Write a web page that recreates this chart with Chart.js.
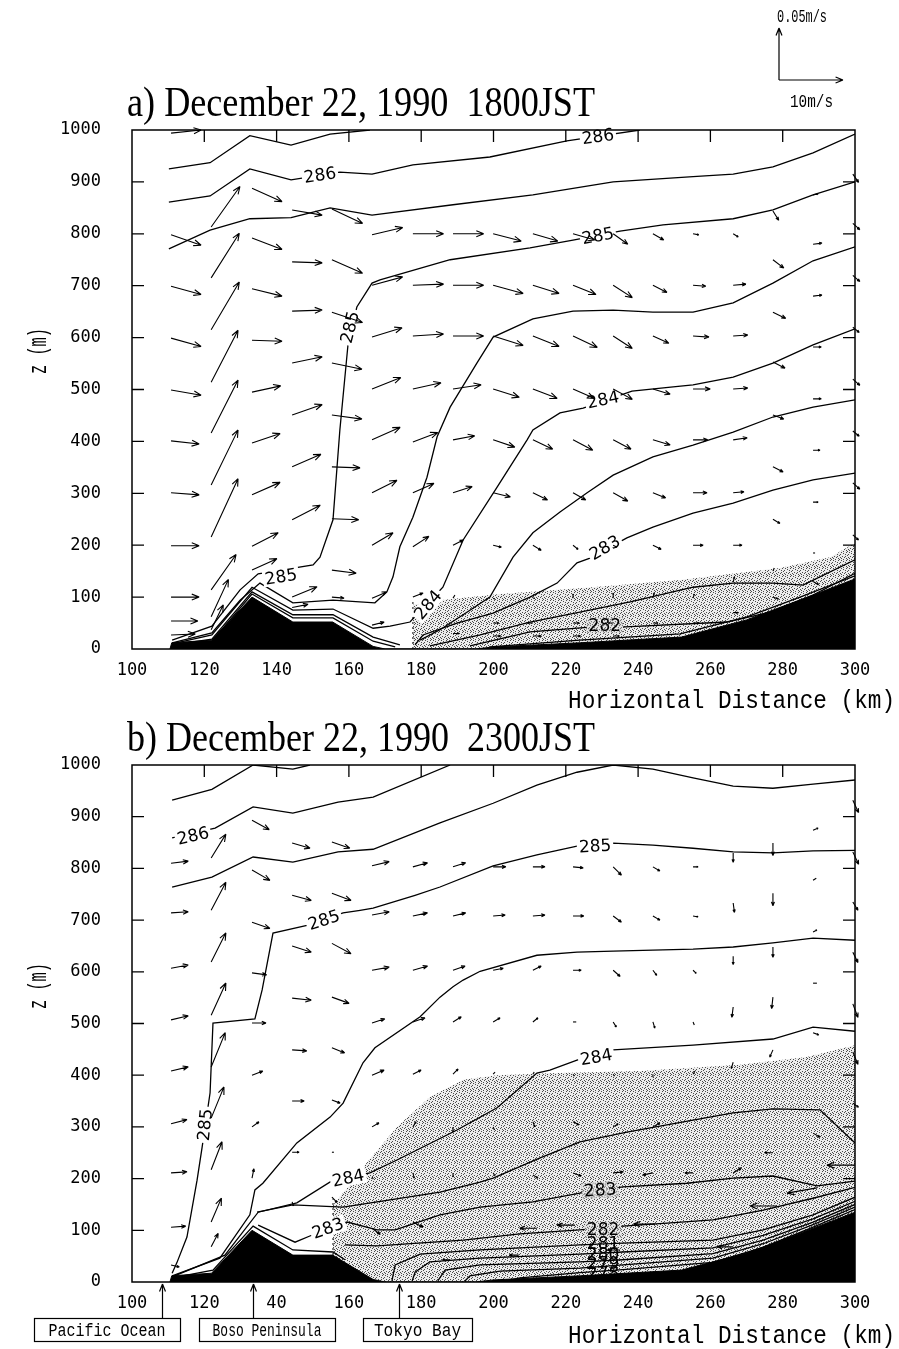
<!DOCTYPE html>
<html>
<head>
<meta charset="utf-8">
<script src="https://cdn.jsdelivr.net/npm/chart.js@4.4.1/dist/chart.umd.min.js"></script>
<style>
  html, body { margin: 0; padding: 0; background: #fff; }
  #wrap { position: relative; width: 899px; height: 1349px; }
  #cA, #cB { position: absolute; left: 0; }
  #cA { top: 0; }
  #cB { top: 715px; }
</style>
</head>
<body>
<div id="wrap">
  <canvas id="cA" width="899" height="715"></canvas>
  <canvas id="cB" width="899" height="634"></canvas>
</div>
<script>
(function () {
  'use strict';

  // ---------- axes ----------
  const xTicks = [100, 120, 140, 160, 180, 200, 220, 240, 260, 280, 300];
  const zTicks = [0, 100, 200, 300, 400, 500, 600, 700, 800, 900, 1000];
  const xLabelsA = ['100', '120', '140', '160', '180', '200', '220', '240', '260', '280', '300'];
  const xLabelsB = ['100', '120', '40', '160', '180', '200', '220', '240', '260', '280', '300'];

  // ---------- terrain and shaded areas  [km, m] ----------
  const terrain = [[110.5, 0], [111, 12], [122, 17], [133.2, 100], [144.5, 52], [155.5, 52], [166.7, 5], [170, 0],
    [195, 0], [200, 4], [224, 12], [252, 23], [270, 56], [285, 95], [300, 135], [300, 0]];
  const shadeA = [[177.7, 0], [177.7, 85], [185.2, 94], [201.8, 106], [223.9, 117], [251.6, 133], [279.3, 156],
    [293.1, 177], [300, 204], [300, 0]];
  const shadeB = [[155.6, 0], [155.6, 149], [160.3, 188], [163.9, 222], [173.3, 300], [182.4, 358], [191.6, 391],
    [201.0, 400], [215.6, 404], [240.5, 408], [268.2, 420], [286.7, 435], [300, 458], [300, 0]];
  const edgeA = [[177.7, 0], [177.7, 92]];
  const edgeB = [[155.6, 52], [155.6, 160]];

  // ---------- potential temperature contours, panel a ----------
  const a286top = [[110.2, 925], [121.6, 937], [132.6, 989], [144.0, 971], [154.8, 992], [165.8, 1000]];
  const a286 = [[110.2, 861], [121.6, 873], [132.6, 925], [144.0, 904], [157.5, 919], [166.4, 915], [177.7, 933],
    [199.0, 948], [220.3, 979], [240.5, 1000]];
  const a2855 = [[110.2, 771], [121.6, 807], [132.6, 829], [144.0, 831], [154.8, 850], [166.4, 836], [188.8, 856],
    [210.9, 875], [233.1, 900], [255.2, 910], [266.3, 915], [277.3, 929], [288.4, 956], [300, 992]];
  const a285 = [[300, 900], [288.4, 875], [277.3, 846], [266.3, 829], [246.9, 817], [235.0, 805], [222.0, 788],
    [210.1, 773], [188.0, 750], [168.6, 711], [166.4, 705], [162.2, 659], [159.8, 590], [157.5, 422], [155.6, 249],
    [152.0, 177], [150.1, 162], [134.9, 145], [129.9, 114], [122.1, 44], [111.1, 17]];
  const a2845 = [[300, 775], [288.4, 748], [277.3, 705], [266.3, 667], [255.2, 649], [244.1, 649], [233.1, 653],
    [222.0, 651], [210.9, 636], [199.9, 601], [195.4, 551], [188.0, 466], [184.4, 409], [181.6, 331], [177.7, 254],
    [174.1, 197], [172.2, 139], [170.5, 110], [167.2, 89], [155.6, 94], [144.5, 89], [135.4, 127], [129.9, 94],
    [122.1, 31], [111.1, 12]];
  const a284 = [[300, 617], [288.4, 586], [277.3, 551], [266.3, 524], [255.2, 509], [249.7, 505], [238.3, 497],
    [224.8, 464], [218.4, 455], [210.9, 422], [209.3, 403], [201.0, 312], [191.6, 210], [186.0, 119], [176.9, 52],
    [171.4, 44], [166.7, 40], [155.6, 77], [144.5, 75], [133.2, 119], [122.1, 27], [111.1, 10]];
  const a2835 = [[300, 480], [288.4, 466], [277.3, 447], [266.3, 418], [255.2, 393], [244.1, 370], [233.1, 335],
    [225.9, 301], [218.4, 264], [210.9, 224], [205.4, 177], [199.0, 100], [191.6, 66], [185.2, 37], [179.7, 17]];
  const a283 = [[300, 339], [288.4, 326], [277.3, 306], [266.3, 281], [255.2, 262], [244.1, 235], [236.9, 214],
    [226.7, 175], [223.1, 166], [217.6, 127], [210.1, 100], [199.9, 69], [189.9, 50], [180.5, 27], [178.3, 8]];
  const a2825 = [[182.4, 6], [196.3, 27], [210.1, 52], [223.9, 71], [237.8, 91], [255.2, 119], [266.3, 127],
    [277.3, 127], [285.6, 123], [300, 172]];
  const a282 = [[193.5, 6], [210.1, 33], [226.7, 42], [235.0, 42], [264.6, 52], [276.5, 71], [288.4, 104], [300, 146]];
  const a2815 = [[199, 4], [223.9, 17], [251.6, 29], [270.1, 62], [284.8, 100], [300, 141]];
  const aHug1 = [[111.1, 8], [122.1, 19], [133.2, 110], [144.5, 66], [155.6, 66], [166.7, 23], [174.1, 8]];
  const aHug2 = [[111.1, 6], [122.1, 15], [133.2, 106], [144.5, 60], [155.6, 60], [166.7, 15], [172.8, 4]];

  // ---------- potential temperature contours, panel b ----------
  const b286top = [[111.1, 932], [122.1, 953], [133.5, 1000], [144.5, 992], [149.2, 1000]];
  const b286 = [[111.1, 859], [123.0, 878], [133.5, 919], [144.5, 907], [157.0, 928], [166.7, 938], [188.0, 1000]];
  const b2855 = [[111.1, 764], [122.1, 783], [133.5, 822], [144.5, 812], [157.0, 832], [166.7, 837], [185.2, 888],
    [199.9, 926], [212.0, 961], [223.1, 986], [233.1, 1000], [244.1, 992], [255.2, 975], [266.3, 959], [277.3, 955],
    [288.4, 963], [300, 971]];
  const b285 = [[300, 835], [288.4, 834], [277.3, 830], [266.3, 832], [255.2, 839], [244.1, 845], [233.1, 849],
    [223.1, 843], [212.0, 826], [199.9, 805], [185.2, 764], [178.3, 748], [166.7, 723], [163.1, 719], [158.4, 714],
    [148.4, 690], [139.0, 675], [136.0, 565], [134.0, 509], [122.4, 501], [121.6, 366], [119.4, 261], [118.0, 197],
    [115.2, 87], [112.4, 37], [111.1, 17]];
  const b2845 = [[300, 661], [288.4, 665], [277.3, 656], [266.3, 648], [255.2, 644], [244.1, 642], [233.1, 640],
    [223.1, 638], [212.0, 632], [196.3, 601], [191.6, 584], [188.8, 571], [185.2, 551], [179.7, 513], [167.2, 453],
    [163.9, 424], [158.4, 346], [154.8, 319], [145.6, 269], [136.2, 191], [134.0, 178], [132.6, 130], [124.3, 46],
    [111.1, 12]];
  const b284 = [[300, 485], [288.4, 493], [277.3, 470], [255.2, 458], [233.1, 449], [223.1, 429], [215.6, 410],
    [212.0, 404], [201.0, 337], [189.9, 294], [173.3, 236], [165.8, 211], [155.6, 197], [145.6, 153], [134.9, 135],
    [125.7, 52], [111.1, 10]];
  const b2835 = [[300, 269], [290.3, 333], [277.3, 335], [266.3, 327], [255.2, 313], [236.9, 290], [223.9, 271],
    [212.9, 240], [199.9, 201], [196.3, 193], [185.2, 174], [167.8, 155], [158.4, 145], [144.5, 149], [134.6, 135]];
  const b283 = [[300, 195], [289.5, 186], [277.3, 205], [266.3, 201], [253.5, 191], [235.8, 184], [223.9, 172],
    [210.9, 155], [196.3, 145], [185.2, 130], [172.8, 101], [167.8, 101], [159.5, 116], [149.2, 89], [145.1, 77],
    [134.9, 110]];
  const b282 = [[300, 183], [288.4, 162], [274.6, 139], [260.7, 120], [248.0, 114], [235.8, 108], [223.9, 101],
    [207.3, 93], [191.6, 81], [167.8, 70], [158.9, 72]];
  const b281 = [[300, 164], [288.4, 130], [274.6, 101], [260.7, 81], [235.8, 75], [223.9, 72], [196.3, 62],
    [179.7, 54], [172.8, 33], [171.9, 2]];
  const b280 = [[300, 156], [288.4, 122], [274.6, 90], [260.7, 66], [235.8, 58], [223.9, 54], [196.3, 46],
    [182.4, 39], [178.3, 19], [177.5, 2]];
  const b279 = [[300, 150], [288.4, 116], [274.6, 81], [260.7, 55], [235.8, 43], [223.9, 39], [196.3, 33],
    [186.6, 23], [184.6, 2]];
  const b278 = [[300, 145], [288.4, 111], [274.6, 74], [260.7, 46], [235.8, 33], [223.9, 27], [201.8, 21],
    [193.5, 12], [192.1, 2]];
  const b277 = [[300, 140], [288.4, 106], [274.6, 67], [260.7, 38], [235.8, 24], [223.9, 18], [207.3, 8], [203.2, 2]];
  const bHug = [[111.1, 8], [122.4, 23], [133.5, 108], [144.5, 62], [155.6, 58], [158.9, 43]];

  // contour labels  [km, m, text, tilt deg, background 0 white / 1 stipple / 2 none]
  const labelsA = [[152.0, 913, '286', -9, 0], [228.9, 987, '286', -8, 0], [228.9, 796, '285', -11, 0],
    [160.3, 620, '285', -76, 0], [141.2, 139, '285', -9, 0], [230.3, 480, '284', -12, 0], [181.9, 85, '284', -50, 0],
    [230.8, 195, '283', -30, 0], [230.8, 46, '282', 0, 1]];
  const labelsB = [[116.9, 863, '286', -13, 0], [228.1, 843, '285', -3, 0], [153.1, 700, '285', -18, 0],
    [120.2, 304, '285', -84, 0], [228.4, 435, '284', -10, 0], [159.8, 201, '284', -12, 0], [229.5, 178, '283', -4, 1],
    [154.2, 104, '283', -20, 0], [230.3, 101, '282', 0, 1], [230.3, 75, '281', 0, 2], [230.3, 54, '280', 0, 2],
    [230.3, 36, '279', 0, 2], [230.3, 17, '278', 0, 2]];

  // ---------- wind vectors  [km, m, u (m/s), w (cm/s)] ----------
  const windA = [
    [110.8, 994, 4.7, 0.3], [110.8, 798, 4.7, -1.0], [110.8, 699, 4.7, -0.8], [110.8, 599, 4.7, -0.8], [110.8, 499, 4.7, -0.5],
    [110.8, 401, 4.4, -0.3], [110.8, 301, 4.4, -0.2], [110.8, 199, 4.4, 0], [110.8, 100, 4.4, 0], [110.8, 54, 4.2, 0], [110.8, 27, 3.8, 0.1],
    [121.9, 813, 4.5, 3.9], [121.9, 715, 4.4, 4.3], [121.9, 615, 4.4, 4.6], [121.9, 514, 4.2, 5.0], [121.9, 416, 4.2, 5.1],
    [121.9, 316, 4.2, 5.3], [121.9, 216, 4.2, 5.6], [121.9, 114, 3.9, 3.4], [121.9, 62, 2.7, 3.6], [121.9, 37, 1.9, 2.4],
    [133.2, 888, 4.7, -1.3], [133.2, 792, 4.7, -1.1], [133.2, 694, 4.7, -0.7], [133.2, 595, 4.7, -0.1], [133.2, 495, 4.5, 0.6],
    [133.2, 397, 4.4, 0.9], [133.2, 297, 4.4, 1.2], [133.2, 198, 4.1, 1.3], [133.2, 152, 3.9, 1.1],
    [144.3, 846, 4.7, -0.5], [144.3, 746, 4.7, -0.1], [144.3, 651, 4.7, 0.1], [144.3, 551, 4.7, 0.6], [144.3, 451, 4.7, 1.0],
    [144.3, 351, 4.5, 1.2], [144.3, 249, 4.4, 1.4], [144.3, 100, 3.9, 1.0], [144.3, 80, 2.5, 0.3],
    [155.3, 848, 4.8, -1.4], [155.3, 750, 4.8, -1.3], [155.3, 649, 4.8, -1.0], [155.3, 551, 4.7, -0.6], [155.3, 451, 4.7, -0.4],
    [155.3, 351, 4.4, -0.1], [155.3, 251, 4.2, -0.1], [155.3, 152, 3.8, -0.3], [155.3, 100, 1.9, -0.1],
    [166.4, 798, 4.8, 0.7], [166.4, 701, 4.8, 0.8], [166.4, 601, 4.7, 0.9], [166.4, 501, 4.5, 1.1], [166.4, 403, 4.4, 1.2],
    [166.4, 301, 3.9, 1.2], [166.4, 200, 3.3, 1.2], [166.4, 98, 2.3, 0.6], [166.4, 46, 1.9, 0.3],
    [177.7, 800, 4.8, 0], [177.7, 701, 4.8, 0.1], [177.7, 603, 4.8, 0.2], [177.7, 501, 4.4, 0.6], [177.7, 399, 3.9, 0.9],
    [177.7, 301, 3.3, 0.9], [177.7, 197, 2.5, 1.0], [177.7, 100, 1.6, 0.4],
    [188.8, 800, 4.8, 0], [188.8, 701, 4.8, 0], [188.8, 603, 4.8, 0], [188.8, 501, 4.4, 0.4], [188.8, 403, 3.4, 0.4],
    [188.8, 301, 3.0, 0.6], [188.8, 200, 1.6, 0.5], [188.8, 98, 0.3, 0.3],
    [199.9, 800, 4.4, -0.7], [199.9, 701, 4.7, -0.8], [199.9, 603, 4.7, -0.9], [199.9, 501, 4.1, -0.8], [199.9, 403, 3.4, -0.7],
    [199.9, 301, 2.7, -0.4], [199.9, 200, 1.3, -0.2], [199.9, 98, 0.2, -0.1],
    [210.9, 800, 3.9, -0.7], [210.9, 701, 4.1, -0.8], [210.9, 603, 4.1, -1.0], [210.9, 501, 3.8, -0.9], [210.9, 403, 3.1, -0.9],
    [210.9, 301, 2.3, -0.7], [210.9, 200, 1.3, -0.5], [210.9, 98, 0.2, 0],
    [222.0, 800, 3.4, -0.6], [222.0, 701, 3.6, -0.9], [222.0, 603, 3.8, -1.1], [222.0, 501, 3.3, -0.9], [222.0, 403, 3.1, -1.0],
    [222.0, 301, 2.0, -0.7], [222.0, 200, 0.8, -0.4], [222.0, 98, 0, 0.4],
    [233.1, 800, 2.3, -1.0], [233.1, 701, 3.0, -1.2], [233.1, 603, 3.0, -1.2], [233.1, 501, 3.0, -1.0], [233.1, 403, 2.8, -0.9],
    [233.1, 301, 2.3, -0.8], [233.1, 200, 0.6, -0.2], [233.1, 98, 0, 0.5],
    [244.1, 800, 1.7, -0.6], [244.1, 701, 2.2, -0.7], [244.1, 603, 2.5, -0.7], [244.1, 501, 2.7, -0.5], [244.1, 403, 2.7, -0.5],
    [244.1, 301, 2.0, -0.5], [244.1, 200, 1.3, -0.4], [244.1, 98, 0.2, 0.5],
    [255.2, 800, 0.9, -0.1], [255.2, 701, 2.0, -0.1], [255.2, 603, 2.5, -0.1], [255.2, 501, 2.7, 0], [255.2, 403, 2.3, 0],
    [255.2, 301, 2.2, 0], [255.2, 200, 1.6, 0], [255.2, 98, 0.2, 0.4],
    [266.3, 800, 0.8, -0.3], [266.3, 701, 2.0, 0.1], [266.3, 603, 2.3, 0.1], [266.3, 501, 2.3, 0.1], [266.3, 403, 2.2, 0.2],
    [266.3, 301, 1.7, 0.1], [266.3, 200, 1.4, 0], [266.3, 129, 0.2, 0.5],
    [277.3, 844, 0.9, -0.9], [277.3, 750, 1.7, -0.8], [277.3, 649, 2.0, -0.6], [277.3, 553, 1.9, -0.6], [277.3, 451, 1.7, -0.4],
    [277.3, 351, 1.6, -0.5], [277.3, 250, 1.1, -0.4], [277.3, 150, 0.2, 0.3],
    [288.4, 875, 0.8, 0.1], [288.4, 780, 1.4, 0.1], [288.4, 680, 1.4, 0.1], [288.4, 582, 1.3, 0], [288.4, 482, 1.3, 0],
    [288.4, 383, 1.1, 0], [288.4, 283, 0.8, 0], [288.4, 185, 0.2, 0],
    [299.4, 915, 0.9, -0.8], [299.4, 820, 1.1, -0.6], [299.4, 720, 1.1, -0.6], [299.4, 620, 1.0, -0.5], [299.4, 520, 1.1, -0.6],
    [299.4, 420, 1.0, -0.5], [299.4, 320, 1.1, -0.6], [299.4, 220, 0.9, -0.5],
    [188.8, 30, 1.0, 0], [199.9, 50, 0.9, 0], [199.9, 25, 1.2, 0], [210.9, 50, -0.8, 0], [210.9, 25, 1.3, 0], [222.0, 50, 1.0, 0],
    [222.0, 25, 1.2, 0], [233.1, 50, -0.8, 0], [233.1, 25, 1.0, 0], [244.1, 50, 0.8, 0], [255.2, 50, 1.0, 0], [266.3, 70, 0.8, 0],
    [277.3, 100, 0.9, -0.2], [288.4, 130, 0.9, -0.3]
  ];

  const windB = [
    [110.8, 810, 2.7, 0.2], [110.8, 714, 2.7, 0.1], [110.8, 607, 2.7, 0.3], [110.8, 507, 2.7, 0.4], [110.8, 408, 2.7, 0.4],
    [110.8, 306, 2.5, 0.4], [110.8, 211, 2.5, 0.1], [110.8, 106, 2.3, 0.1], [110.8, 33, 1.3, -0.2],
    [121.9, 820, 2.3, 2.3], [121.9, 719, 2.3, 2.7], [121.9, 619, 2.3, 2.8], [121.9, 516, 2.3, 3.1], [121.9, 416, 2.2, 3.3],
    [121.9, 317, 2.0, 3.0], [121.9, 217, 1.7, 2.7], [121.9, 116, 1.6, 2.3], [121.9, 68, 1.1, 1.3],
    [133.2, 893, 2.7, -0.9], [133.2, 797, 2.8, -1.0], [133.2, 696, 2.8, -0.6], [133.2, 598, 2.3, -0.2], [133.2, 501, 2.2, 0],
    [133.2, 400, 1.7, 0.4], [133.2, 300, 1.1, 0.5], [133.2, 201, 0.3, 0.9],
    [144.3, 849, 2.8, -0.5], [144.3, 748, 3.0, -0.5], [144.3, 650, 3.0, -0.6], [144.3, 549, 3.0, -0.2], [144.3, 449, 2.3, -0.1],
    [144.3, 350, 1.9, 0], [144.3, 251, 1.1, 0], [144.3, 155, 0.2, -0.4],
    [155.3, 851, 2.8, -0.6], [155.3, 752, 3.0, -0.7], [155.3, 655, 3.0, -1.0], [155.3, 551, 2.7, -0.6], [155.3, 453, 2.0, -0.5],
    [155.3, 352, 1.3, -0.3], [155.3, 251, 0.2, 0], [155.3, 164, 0.8, -0.5],
    [166.4, 805, 2.7, 0.4], [166.4, 710, 2.7, 0.3], [166.4, 603, 2.7, 0.3], [166.4, 501, 2.0, 0.4], [166.4, 400, 1.9, 0.5],
    [166.4, 300, 1.1, 0.4], [166.4, 203, 0.2, -0.2], [166.4, 104, 1.3, -0.6],
    [177.7, 803, 2.3, 0.4], [177.7, 708, 2.3, 0.3], [177.7, 603, 2.3, 0.4], [177.7, 503, 1.9, 0.4], [177.7, 402, 1.3, 0.4],
    [177.7, 300, 0.5, 0.5], [177.7, 211, 0.2, -0.5], [177.7, 116, 1.6, -0.5],
    [188.8, 803, 2.0, 0.4], [188.8, 708, 2.0, 0.3], [188.8, 603, 1.9, 0.4], [188.8, 503, 1.3, 0.5], [188.8, 402, 0.8, 0.5],
    [188.8, 300, 0, -0.5], [188.8, 211, 0, -0.4],
    [199.9, 803, 2.0, 0], [199.9, 708, 1.9, 0.1], [199.9, 603, 1.6, 0.2], [199.9, 503, 1.1, 0.4], [199.9, 402, 0.3, 0.2],
    [199.9, 300, 0.2, -0.3], [199.9, 211, 0.3, -0.3],
    [210.9, 803, 1.9, 0], [210.9, 708, 1.9, 0.1], [210.9, 603, 1.3, 0.4], [210.9, 503, 0.8, 0.4], [210.9, 402, 0.2, 0.2],
    [210.9, 310, 0.3, -0.5], [210.9, 207, 0.8, -0.3],
    [222.0, 803, 1.6, -0.1], [222.0, 708, 1.7, 0], [222.0, 603, 1.3, 0], [222.0, 503, 0.5, 0], [222.0, 402, 0.2, -0.2],
    [222.0, 310, 0.9, -0.3], [222.0, 211, 1.3, -0.3],
    [233.1, 803, 1.3, -0.8], [233.1, 708, 1.3, -0.6], [233.1, 603, 1.1, -0.6], [233.1, 503, 0.5, -0.5], [233.1, 402, 0.2, -0.2],
    [233.1, 300, 0.8, 0.3], [233.1, 211, 1.6, 0.1],
    [244.1, 803, 1.1, -0.4], [244.1, 708, 1.1, -0.4], [244.1, 603, 0.6, -0.5], [244.1, 503, 0.3, -0.6], [244.1, 402, 0, -0.3],
    [244.1, 300, 1.1, 0.4], [244.1, 211, -1.6, -0.2],
    [255.2, 803, 0.8, 0], [255.2, 708, 0.8, -0.1], [255.2, 603, 0.5, -0.3], [255.2, 503, 0.2, -0.3], [255.2, 402, 0.3, 0.3],
    [255.2, 211, -1.3, 0],
    [266.3, 830, 0, -0.9], [266.3, 733, 0.2, -0.9], [266.3, 630, 0, -0.8], [266.3, 532, -0.2, -1.0], [266.3, 425, -0.3, -0.6],
    [266.3, 211, 1.3, 0.5],
    [277.3, 849, 0, -1.2], [277.3, 752, 0, -1.2], [277.3, 648, 0, -1.0], [277.3, 551, -0.2, -1.1], [277.3, 449, -0.5, -0.7],
    [277.3, 250, -1.3, 0],
    [288.4, 874, 0.8, 0.2], [288.4, 777, 0.5, 0.2], [288.4, 677, 0.6, 0.2], [288.4, 578, 0.6, 0], [288.4, 482, 0.9, -0.2],
    [288.4, 288, 1.1, -0.4],
    [299.4, 932, 0.9, -1.2], [299.4, 832, 0.9, -1.2], [299.4, 735, 0.8, -0.8], [299.4, 638, 0.8, -1.0], [299.4, 538, 0.8, -1.3],
    [299.4, 445, 0.8, -1.2], [299.4, 346, 0.9, -0.4],
    [300, 226, -4.4, 0], [289.5, 182, -4.7, -0.5], [278.4, 147, -4.2, 0], [244.7, 112, -3.4, 0], [222.5, 110, -2.8, 0],
    [212.0, 104, -2.7, 0], [266.3, 68, -2.5, 0], [235.0, 62, -2.0, 0], [207.0, 52, -1.5, 0], [188.0, 43, -1.2, 0]
  ];

  // reference vector of the legend
  const refU = 10;      // m/s
  const refW = 5;       // cm/s  (0.05 m/s)
  const pxPerU = 6.4;   // px per m/s
  const pxPerW = 10.4;  // px per cm/s

  // place names under panel b
  const placeNames = ['Pacific Ocean', 'Boso Peninsula', 'Tokyo Bay'];
  const placeKm = [108.3, 133.5, 173.9];

  // ---------- helpers ----------
  const pts = arr => arr.map(p => ({ x: p[0], y: p[1] }));

  // fine dot screen like the printed stipple
  function stipple() {
    const c = document.createElement('canvas');
    c.width = 8; c.height = 8;
    const g = c.getContext('2d');
    g.fillStyle = '#ececec';
    g.fillRect(0, 0, 8, 8);
    g.fillStyle = '#4a4a4a';
    [[1, 0], [6, 0], [3, 1], [0, 2], [5, 2], [7, 3], [2, 4], [4, 5], [6, 6], [1, 6], [3, 7], [7, 7], [5, 4], [0, 5]]
      .forEach(p => g.fillRect(p[0], p[1], 1, 1));
    return g.createPattern(c, 'repeat');
  }
  const shadePattern = stipple();

  function arrow(ctx, x0, y0, x1, y1) {
    let dx = x1 - x0, dy = y1 - y0;
    let len = Math.hypot(dx, dy);
    if (len < 2) {
      const a0 = len > 0 ? Math.atan2(dy, dx) : 0;
      dx = 2 * Math.cos(a0); dy = 2 * Math.sin(a0);
      x1 = x0 + dx; y1 = y0 + dy; len = 2;
    }
    ctx.beginPath();
    ctx.moveTo(x0, y0);
    ctx.lineTo(x1, y1);
    if (len > 4) {
      const h = Math.min(8, len * 0.33), a = Math.atan2(dy, dx);
      ctx.moveTo(x1, y1);
      ctx.lineTo(x1 - h * Math.cos(a - 0.38), y1 - h * Math.sin(a - 0.38));
      ctx.moveTo(x1, y1);
      ctx.lineTo(x1 - h * Math.cos(a + 0.38), y1 - h * Math.sin(a + 0.38));
    }
    ctx.stroke();
  }

  function fitText(ctx, txt, x, y, width, font, align) {
    ctx.save();
    ctx.font = font;
    const s = width / ctx.measureText(txt).width;
    ctx.translate(x, y);
    ctx.scale(s, 1);
    ctx.textAlign = align || 'left';
    ctx.textBaseline = 'alphabetic';
    ctx.fillStyle = '#000';
    ctx.fillText(txt, 0, 0);
    ctx.restore();
  }

  function lineSet(arr) {
    return { data: pts(arr), showLine: true, borderColor: '#000', borderWidth: 1.3, pointRadius: 0, fill: false, tension: 0 };
  }

  function buildDatasets(lines, shade, edge) {
    const ds = [];
    ds.push({ data: pts(terrain), showLine: true, borderColor: '#000', borderWidth: 1, pointRadius: 0,
      fill: 'origin', backgroundColor: '#000' });
    lines.forEach(l => ds.push(lineSet(l)));
    ds.push({ data: pts(edge), showLine: true, borderColor: '#333', borderWidth: 1.2, borderDash: [2, 3],
      pointRadius: 0, fill: false });
    ds.push({ data: pts(shade), showLine: true, borderWidth: 0, borderColor: 'rgba(0,0,0,0)', pointRadius: 0,
      fill: 'origin', backgroundColor: shadePattern });
    return ds;
  }

  function panelPlugin(p) {
    return {
      id: 'panelDecor',
      afterDatasetsDraw(chart) {
        const ctx = chart.ctx, ca = chart.chartArea, xs = chart.scales.x, ys = chart.scales.y;
        ctx.save();
        // contour labels
        p.labels.forEach(([km, z, txt, deg, bg]) => {
          const px = xs.getPixelForValue(km), py = ys.getPixelForValue(z);
          ctx.save();
          ctx.translate(px, py);
          ctx.rotate(deg * Math.PI / 180);
          ctx.font = '17px "DejaVu Sans"';
          const w = ctx.measureText(txt).width;
          if (bg !== 2) {
            ctx.fillStyle = bg === 1 ? shadePattern : '#fff';
            ctx.fillRect(-w / 2 - 2, -8, w + 4, 16);
          }
          ctx.fillStyle = '#000';
          ctx.textAlign = 'center';
          ctx.textBaseline = 'middle';
          ctx.fillText(txt, 0, 1);
          ctx.restore();
        });
        // wind vectors
        ctx.strokeStyle = '#000';
        ctx.lineWidth = 1.1;
        p.wind.forEach(([km, z, u, w]) => {
          const x0 = xs.getPixelForValue(km), y0 = ys.getPixelForValue(z);
          arrow(ctx, x0, y0, x0 + u * pxPerU, y0 - w * pxPerW);
        });
        // frame and inner ticks
        ctx.lineWidth = 1.5;
        ctx.strokeRect(ca.left, ca.top, ca.right - ca.left, ca.bottom - ca.top);
        ctx.lineWidth = 1.3;
        ctx.beginPath();
        zTicks.slice(1, -1).forEach(v => {
          const py = ys.getPixelForValue(v);
          ctx.moveTo(ca.left, py); ctx.lineTo(ca.left + 12, py);
          ctx.moveTo(ca.right, py); ctx.lineTo(ca.right - 12, py);
        });
        xTicks.slice(1, -1).forEach(v => {
          const px = xs.getPixelForValue(v);
          ctx.moveTo(px, ca.top); ctx.lineTo(px, ca.top + 12);
        });
        ctx.stroke();
        ctx.restore();
      },
      afterDraw(chart) {
        const ctx = chart.ctx, ca = chart.chartArea;
        fitText(ctx, p.title, 127, ca.top - 14, 468, '42px "Liberation Serif"');
        fitText(ctx, 'Horizontal Distance (km)', 895, ca.bottom + p.xTitleDy, 327, '26px "Liberation Mono"', 'right');
        ctx.save();
        ctx.translate(38, ca.top + 221);
        ctx.rotate(-Math.PI / 2);
        fitText(ctx, 'z (m)', 0, 8, 46, '25px "Liberation Mono"', 'center');
        ctx.restore();
        if (p.extra) p.extra(chart);
      }
    };
  }

  function makeChart(id, lines, shade, edge, xLabels, padTop, xHeight, plugin) {
    return new Chart(document.getElementById(id), {
      type: 'scatter',
      data: { datasets: buildDatasets(lines, shade, edge) },
      options: {
        responsive: false,
        animation: false,
        events: [],
        layout: { padding: { top: padTop, right: 44, bottom: 0, left: 0 } },
        plugins: { legend: { display: false }, tooltip: { enabled: false } },
        scales: {
          x: {
            type: 'linear', min: 100, max: 300,
            grid: { display: false, drawTicks: false }, border: { display: false },
            ticks: { stepSize: 20, autoSkip: false, maxRotation: 0, padding: 11, color: '#000',
              font: { family: 'DejaVu Sans Mono', size: 17 },
              callback: v => xLabels[xTicks.indexOf(v)] },
            afterFit: s => { s.height = xHeight; }
          },
          y: {
            type: 'linear', min: 0, max: 1000,
            grid: { display: false, drawTicks: false }, border: { display: false },
            ticks: { stepSize: 100, autoSkip: false, padding: 31, color: '#000',
              font: { family: 'DejaVu Sans Mono', size: 17 },
              callback: v => String(v) },
            afterFit: s => { s.width = 132; }
          }
        }
      },
      plugins: [plugin]
    });
  }

  // ---------- panel a ----------
  const linesA = [a286top, a286, a2855, a285, a2845, a284, a2835, a283, a2825, a282, a2815, aHug1, aHug2];
  makeChart('cA', linesA, shadeA, edgeA, xLabelsA, 130, 66, panelPlugin({
    title: 'a) December 22, 1990  1800JST',
    labels: labelsA, wind: windA, xTitleDy: 59,
    extra(chart) {
      const ctx = chart.ctx;
      const ox = 779, oy = 80;
      ctx.save();
      ctx.strokeStyle = '#000';
      ctx.lineWidth = 1.2;
      arrow(ctx, ox, oy, ox, oy - refW * pxPerW);
      arrow(ctx, ox, oy, ox + refU * pxPerU, oy);
      ctx.restore();
      fitText(ctx, '0.05m/s', 777, 22, 50, '18px "Liberation Mono"');
      fitText(ctx, '10m/s', 790, 107, 43, '18px "Liberation Mono"');
    }
  }));

  // ---------- panel b ----------
  const linesB = [b286top, b286, b2855, b285, b2845, b284, b2835, b283, b282, b281, b280, b279, b278, b277, bHug];
  makeChart('cB', linesB, shadeB, edgeB, xLabelsB, 50, 67, panelPlugin({
    title: 'b) December 22, 1990  2300JST',
    labels: labelsB, wind: windB, xTitleDy: 61,
    extra(chart) {
      const ctx = chart.ctx, xs = chart.scales.x, ca = chart.chartArea;
      const boxes = [[34, 180], [199, 335], [363, 472]];
      ctx.save();
      ctx.strokeStyle = '#000';
      ctx.lineWidth = 1.2;
      placeNames.forEach((name, i) => {
        const [l, r] = boxes[i];
        ctx.strokeRect(l + 0.5, 603.5, r - l, 23);
        fitText(ctx, name, (l + r) / 2, 621, (r - l) * 0.8, '19px "Liberation Mono"', 'center');
        const px = Math.round(xs.getPixelForValue(placeKm[i])) + 0.5;
        arrow(ctx, px, 603, px, ca.bottom + 2);
      });
      ctx.restore();
    }
  }));
})();
</script>
</body>
</html>
